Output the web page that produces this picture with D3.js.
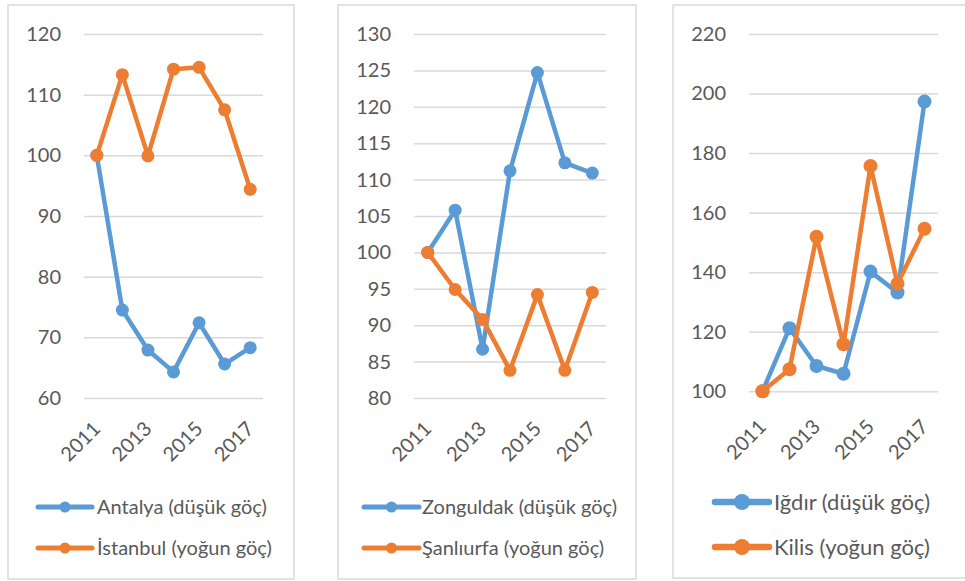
<!DOCTYPE html>
<html>
<head>
<meta charset="utf-8">
<script src="https://cdn.jsdelivr.net/npm/d3@7"></script>
<style>
  html, body { margin: 0; padding: 0; background: #fff; }
  svg { display: block; font-family: Lato, "Open Sans", sans-serif; }
</style>
</head>
<body>
<svg id="chart" width="965" height="581"></svg>
<script>
// ---- Data ----
const years = [2011, 2012, 2013, 2014, 2015, 2016, 2017];
const yearTickLabels = [2011, 2013, 2015, 2017];

const antalya   = [100, 74.5, 67.9, 64.3, 72.4, 65.6, 68.3];
const istanbul  = [100, 113.3, 99.9, 114.2, 114.5, 107.5, 94.4];

const zonguldak = [100, 105.8, 86.7, 111.2, 124.7, 112.3, 110.9];
const sanliurfa = [100, 94.9, 90.8, 83.8, 94.2, 83.8, 94.5];

const igdir     = [100, 121.2, 108.5, 105.9, 140.2, 133.2, 197.3];
const kilis     = [100, 107.4, 151.9, 115.8, 175.7, 136.1, 154.6];

const ticks1 = [60, 70, 80, 90, 100, 110, 120];
const ticks2 = [80, 85, 90, 95, 100, 105, 110, 115, 120, 125, 130];
const ticks3 = [100, 120, 140, 160, 180, 200, 220];

const labelsLow  = ["Antalya (düşük göç)", "Zonguldak (düşük göç)", "Iğdır (düşük göç)"];
const labelsHigh = ["İstanbul (yoğun göç)", "Şanlıurfa (yoğun göç)", "Kilis (yoğun göç)"];

// ---- Style / layout ----
const BLUE = "#5B9BD5", ORANGE = "#ED7D31", GRID = "#D9D9D9", TEXT = "#595959";

const panels = [
  { frame: [8, 5, 294, 579], plot: [84, 263, 34, 398], ticks: ticks1, low: antalya, high: istanbul,
    lowLabel: labelsLow[0], highLabel: labelsHigh[0],
    legend: { x1: 38, x2: 92, tx: 97, y1: 507, y2: 548, r: 5.5, w: 5, fs: 20 }, mr: 6.5, xlY: 430 },
  { frame: [338, 5, 636, 579], plot: [414, 606, 34, 398], ticks: ticks2, low: zonguldak, high: sanliurfa,
    lowLabel: labelsLow[1], highLabel: labelsHigh[1],
    legend: { x1: 364, x2: 419, tx: 422, y1: 507, y2: 548, r: 5.5, w: 5, fs: 20 }, mr: 6.5, xlY: 430 },
  { frame: [673, 5, 980, 578], plot: [749, 938, 34, 391.3], ticks: ticks3, low: igdir, high: kilis,
    lowLabel: labelsLow[2], highLabel: labelsHigh[2],
    legend: { x1: 715, x2: 769, tx: 774, y1: 502, y2: 547, r: 8, w: 6.5, fs: 22 }, mr: 7, xlY: 428 }
];

const svg = d3.select("#chart");

panels.forEach(p => {
  const g = svg.append("g");
  const [fx0, fy0, fx1, fy1] = p.frame;
  g.append("rect")
    .attr("x", fx0).attr("y", fy0)
    .attr("width", fx1 - fx0).attr("height", fy1 - fy0)
    .attr("fill", "#fff").attr("stroke", GRID).attr("stroke-width", 1.5);

  const [px0, px1, pyTop, pyBot] = p.plot;
  const x = d3.scalePoint().domain(years).range([px0, px1]).padding(0.5);
  const y = d3.scaleLinear().domain([d3.min(p.ticks), d3.max(p.ticks)]).range([pyBot, pyTop]);

  // gridlines + y labels via axis
  const yAxis = d3.axisLeft(y).tickValues(p.ticks).tickSize(-(px1 - px0)).tickPadding(23).tickFormat(d3.format("d"));
  const ya = g.append("g").attr("transform", `translate(${px0},0)`).call(yAxis);
  ya.select(".domain").remove();
  ya.selectAll(".tick line").attr("stroke", GRID).attr("stroke-width", 1.5);
  ya.selectAll(".tick text").attr("fill", TEXT).attr("font-size", 20).attr("font-family", "Lato, sans-serif");

  // x labels
  const xa = g.append("g");
  xa.selectAll("text").data(yearTickLabels).enter().append("text")
    .attr("transform", d => `translate(${x(d) + 5},${p.xlY}) rotate(-45)`)
    .attr("text-anchor", "end")
    .attr("fill", TEXT).attr("font-size", 20)
    .text(d => d);

  const line = d3.line().x((d, i) => x(years[i])).y(d => y(d));

  [[p.low, BLUE], [p.high, ORANGE]].forEach(([vals, col]) => {
    g.append("path").datum(vals)
      .attr("d", line).attr("fill", "none").attr("stroke", col)
      .attr("stroke-width", 4.5).attr("stroke-linejoin", "round");
    g.selectAll(null).data(vals).enter().append("circle")
      .attr("cx", (d, i) => x(years[i])).attr("cy", d => y(d))
      .attr("r", p.mr).attr("fill", col);
  });

  // legend
  const L = p.legend;
  [[p.lowLabel, BLUE, L.y1], [p.highLabel, ORANGE, L.y2]].forEach(([lab, col, ly]) => {
    g.append("line").attr("x1", L.x1).attr("x2", L.x2).attr("y1", ly).attr("y2", ly)
      .attr("stroke", col).attr("stroke-width", L.w).attr("stroke-linecap", "round");
    g.append("circle").attr("cx", (L.x1 + L.x2) / 2).attr("cy", ly).attr("r", L.r).attr("fill", col);
    g.append("text").attr("x", L.tx).attr("y", ly).attr("dy", "0.35em")
      .attr("fill", TEXT).attr("font-size", L.fs).text(lab);
  });
});
</script>
</body>
</html>
